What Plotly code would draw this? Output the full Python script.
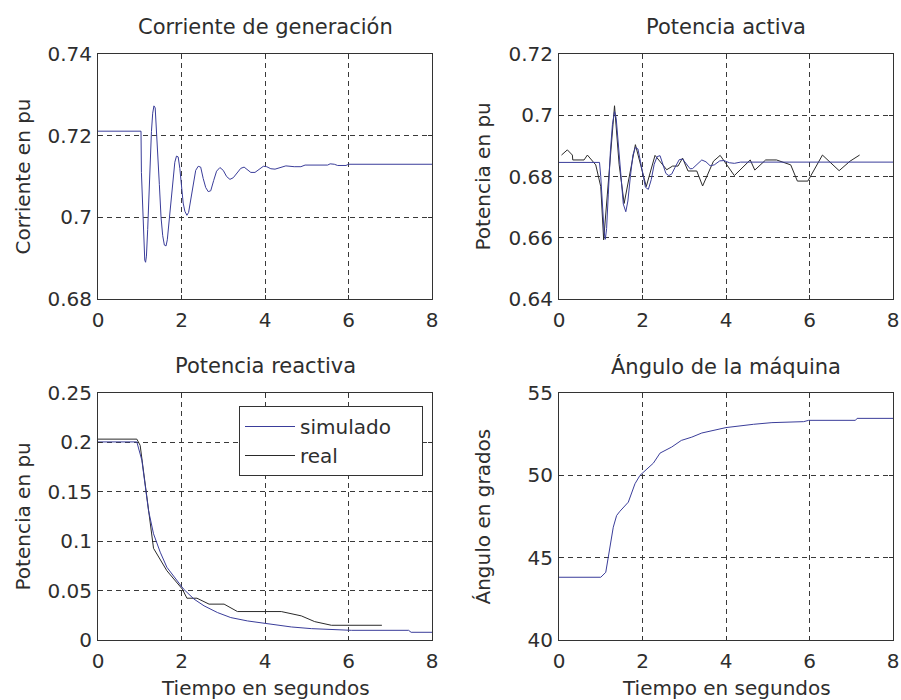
import plotly.graph_objects as go

# ---------------- data ----------------
# Corriente de generación (simulado)
cur_t = [0, 1.02, 1.03, 1.04, 1.07, 1.10, 1.12, 1.14, 1.16, 1.19, 1.22, 1.25, 1.28, 1.31, 1.34, 1.37,
         1.40, 1.43, 1.47, 1.51, 1.55, 1.59, 1.63, 1.66, 1.70, 1.74, 1.79, 1.84, 1.88, 1.92, 1.96,
         2.00, 2.04, 2.08, 2.13, 2.17, 2.22, 2.28, 2.34, 2.40, 2.46, 2.52, 2.58, 2.64, 2.70, 2.77,
         2.84, 2.92, 3.00, 3.08, 3.16, 3.24, 3.32, 3.42, 3.50, 3.58, 3.66, 3.76, 3.86, 3.96, 4.04,
         4.14, 4.24, 4.36, 4.50, 4.70, 4.86, 4.96, 5.50, 5.56, 5.66, 5.74, 5.94, 6.00, 8.00]
cur_v = [0.7211, 0.7211, 0.7211, 0.7110, 0.7030, 0.6940, 0.6895, 0.6890, 0.6905, 0.6970, 0.7060,
         0.7140, 0.7210, 0.7255, 0.7273, 0.7268, 0.7220, 0.7160, 0.7080, 0.7000, 0.6955, 0.6932,
         0.6930, 0.6945, 0.6990, 0.7040, 0.7090, 0.7135, 0.7150, 0.7148, 0.7120, 0.7070, 0.7035,
         0.7015, 0.7005, 0.7012, 0.7040, 0.7080, 0.7115, 0.7125, 0.7123, 0.7095, 0.7073, 0.7063,
         0.7065, 0.7090, 0.7113, 0.7122, 0.7115, 0.7100, 0.7093, 0.7097, 0.7108, 0.7120, 0.7123,
         0.7117, 0.7110, 0.7110, 0.7118, 0.7125, 0.7124, 0.7119, 0.7118, 0.7122, 0.7126, 0.7124,
         0.7124, 0.7128, 0.7128, 0.7131, 0.7130, 0.7127, 0.7127, 0.7130, 0.7130]

# Potencia activa
pa_sim_t = [0, 0.97, 1.00, 1.04, 1.08, 1.11, 1.14, 1.18, 1.23, 1.28, 1.33, 1.37, 1.42, 1.48, 1.54,
            1.60, 1.65, 1.71, 1.77, 1.83, 1.89, 1.95, 2.01, 2.07, 2.14, 2.21, 2.28, 2.35, 2.42, 2.49,
            2.56, 2.63, 2.70, 2.78, 2.88, 2.96, 3.05, 3.14, 3.20, 3.30, 3.42, 3.52, 3.62, 3.72, 3.85,
            3.95, 4.08, 4.20, 4.35, 8.00]
pa_sim_v = [0.6846, 0.6846, 0.6800, 0.6710, 0.6620, 0.6595, 0.6630, 0.6740, 0.6880, 0.6970, 0.7012,
            0.6990, 0.6900, 0.6790, 0.6710, 0.6685, 0.6720, 0.6800, 0.6870, 0.6895, 0.6890, 0.6850,
            0.6800, 0.6765, 0.6758, 0.6790, 0.6840, 0.6865, 0.6868, 0.6840, 0.6810, 0.6803, 0.6808,
            0.6830, 0.6855, 0.6857, 0.6840, 0.6825, 0.6826, 0.6840, 0.6854, 0.6848, 0.6835, 0.6838,
            0.6851, 0.6852, 0.6845, 0.6843, 0.6847, 0.6847]
pa_real_t = [0.06, 0.20, 0.32, 0.33, 0.60, 0.68, 0.88, 1.00, 1.07, 1.24, 1.33, 1.44, 1.56, 1.83, 2.09,
             2.30, 2.58, 2.72, 2.85, 2.96, 3.09, 3.30, 3.44, 3.70, 3.86, 4.20, 4.58, 4.69, 4.95, 5.21,
             5.55, 5.71, 5.96, 6.31, 6.71, 6.97, 7.20]
pa_real_v = [0.6870, 0.6887, 0.6870, 0.6854, 0.6854, 0.6870, 0.6838, 0.6767, 0.6593, 0.6897, 0.7031,
             0.6840, 0.6712, 0.6904, 0.6767, 0.6869, 0.6822, 0.6834, 0.6834, 0.6860, 0.6818, 0.6818,
             0.6769, 0.6850, 0.6869, 0.6803, 0.6854, 0.6821, 0.6854, 0.6854, 0.6838, 0.6785, 0.6785,
             0.6870, 0.6819, 0.6850, 0.6870]

# Potencia reactiva
pr_sim_t = [0, 0.93, 1.05, 1.13, 1.21, 1.33, 1.49, 1.65, 1.89, 2.05, 2.30, 2.54, 2.86, 3.18, 3.58,
            3.98, 4.63, 5.11, 6.07, 7.44, 7.50, 8.00]
pr_sim_v = [0.2005, 0.2005, 0.182, 0.155, 0.131, 0.1075, 0.0889, 0.0736, 0.060, 0.0515, 0.0414,
            0.0346, 0.0278, 0.0227, 0.0193, 0.0170, 0.0132, 0.0115, 0.0098, 0.0098, 0.0078, 0.0078]
pr_real_t = [0, 0.93, 1.01, 1.15, 1.33, 1.65, 2.02, 2.13, 2.37, 2.66, 3.02, 3.34, 4.39, 4.87, 5.19,
             5.59, 6.80]
pr_real_v = [0.2033, 0.2033, 0.197, 0.151, 0.0928, 0.0701, 0.0515, 0.0423, 0.0423, 0.0363, 0.0363,
             0.0288, 0.0288, 0.0244, 0.0186, 0.0149, 0.0149]

# Ángulo de la máquina
ang_t = [0, 1.00, 1.12, 1.18, 1.25, 1.30, 1.38, 1.46, 1.66, 1.76, 1.82, 1.94, 2.26, 2.42, 2.70,
         2.93, 3.18, 3.42, 3.82, 4.00, 4.66, 5.10, 5.86, 5.98, 7.10, 7.14, 8.00]
ang_v = [43.81, 43.81, 44.11, 45.02, 46.04, 46.85, 47.56, 47.82, 48.37, 49.08, 49.49, 50.00, 50.74,
         51.35, 51.72, 52.12, 52.32, 52.57, 52.77, 52.90, 53.10, 53.20, 53.26, 53.34, 53.34, 53.46,
         53.46]

x_ticks = [0, 2, 4, 6, 8]
y1_ticks = [0.68, 0.70, 0.72, 0.74]
y1_text = ["0.68", "0.7", "0.72", "0.74"]
y2_ticks = [0.64, 0.66, 0.68, 0.70, 0.72]
y2_text = ["0.64", "0.66", "0.68", "0.7", "0.72"]
y3_ticks = [0, 0.05, 0.10, 0.15, 0.20, 0.25]
y3_text = ["0", "0.05", "0.1", "0.15", "0.2", "0.25"]
y4_ticks = [40, 45, 50, 55]
y4_text = ["40", "45", "50", "55"]

titles = ["Corriente de generación", "Potencia activa", "Potencia reactiva", "Ángulo de la máquina"]
ytitles = ["Corriente en pu", "Potencia en pu", "Potencia en pu", "Ángulo en grados"]
xtitle = "Tiempo en segundos"
legend_names = ["simulado", "real"]

# ---------------- style ----------------
W, H = 901, 700
BLUE = "#3a3d9a"
BLACK = "#2a2a2a"
TXT = "#2e2e2e"
AX = "#333333"
FONT = "DejaVu Sans"

colL = (98, 432)
colR = (559, 893)
rowT = (54, 299)
rowB = (393, 640)


def xdom(c):
    return [c[0] / W, c[1] / W]


def ydom(r):
    return [1 - r[1] / H, 1 - r[0] / H]


fig = go.Figure()

fig.add_trace(go.Scatter(x=cur_t, y=cur_v, mode="lines", line=dict(color=BLUE, width=1),
                         showlegend=False, xaxis="x", yaxis="y"))
fig.add_trace(go.Scatter(x=pa_real_t, y=pa_real_v, mode="lines", line=dict(color=BLACK, width=1),
                         showlegend=False, xaxis="x2", yaxis="y2"))
fig.add_trace(go.Scatter(x=pa_sim_t, y=pa_sim_v, mode="lines", line=dict(color=BLUE, width=1),
                         showlegend=False, xaxis="x2", yaxis="y2"))
fig.add_trace(go.Scatter(x=pr_real_t, y=pr_real_v, mode="lines", line=dict(color=BLACK, width=1),
                         name=legend_names[1], showlegend=True, xaxis="x3", yaxis="y3",
                         legendrank=2))
fig.add_trace(go.Scatter(x=pr_sim_t, y=pr_sim_v, mode="lines", line=dict(color=BLUE, width=1),
                         name=legend_names[0] + "\u00a0" * 4, showlegend=True, xaxis="x3",
                         yaxis="y3", legendrank=1))
fig.add_trace(go.Scatter(x=ang_t, y=ang_v, mode="lines", line=dict(color=BLUE, width=1),
                         showlegend=False, xaxis="x4", yaxis="y4"))

common = dict(showline=True, linecolor=AX, linewidth=1, mirror="ticks", ticks="inside",
              ticklen=4, tickcolor=AX, showgrid=True, gridcolor="#3a3a3a", gridwidth=1,
              griddash="5px,4px", zeroline=False, tickfont=dict(family=FONT, size=20, color=TXT))

layout = dict(width=W, height=H, margin=dict(l=0, r=0, t=0, b=0, pad=0, autoexpand=False),
              paper_bgcolor="white", plot_bgcolor="white",
              font=dict(family=FONT, size=20, color=TXT))

axes = [("", colL, rowT, y1_ticks, y1_text, [0.68, 0.74]),
        ("2", colR, rowT, y2_ticks, y2_text, [0.64, 0.72]),
        ("3", colL, rowB, y3_ticks, y3_text, [0, 0.25]),
        ("4", colR, rowB, y4_ticks, y4_text, [40, 55])]

for sfx, c, r, yt, ytt, yr in axes:
    layout["xaxis" + sfx] = dict(common, domain=xdom(c), range=[0, 8], tickvals=x_ticks,
                                 anchor="y" + sfx, ticklabelstandoff=3)
    layout["yaxis" + sfx] = dict(common, domain=ydom(r), range=yr, tickvals=yt, ticktext=ytt,
                                 anchor="x" + sfx, ticklabelstandoff=1)

fig.update_layout(**layout)

anns = []
for i, (sfx, c, r, *_rest) in enumerate(axes):
    cx = (c[0] + c[1]) / 2 / W
    cy = 1 - ((r[0] + r[1]) / 2) / H
    anns.append(dict(text=titles[i], x=cx, y=1 - (r[0] - 27) / H, xref="paper", yref="paper",
                     xanchor="center", yanchor="middle", showarrow=False,
                     font=dict(family=FONT, size=21, color=TXT)))
    axx = (22 if c is colL else 482) / W
    anns.append(dict(text=ytitles[i], x=axx, y=cy, xref="paper", yref="paper",
                     xanchor="center", yanchor="middle", textangle=-90, showarrow=False,
                     font=dict(family=FONT, size=20, color=TXT)))
    if r is rowB:
        anns.append(dict(text=xtitle, x=cx, y=1 - 688 / H, xref="paper", yref="paper",
                         xanchor="center", yanchor="middle", showarrow=False,
                         font=dict(family=FONT, size=20, color=TXT)))

fig.update_layout(annotations=anns)

fig.update_layout(legend=dict(x=239 / W, y=1 - 406 / H, xanchor="left", yanchor="top",
                              bgcolor="white", bordercolor=AX, borderwidth=1,
                              font=dict(family=FONT, size=20, color=TXT),
                              itemwidth=50, tracegroupgap=0, traceorder="normal"))

fig.write_html("out.html")
